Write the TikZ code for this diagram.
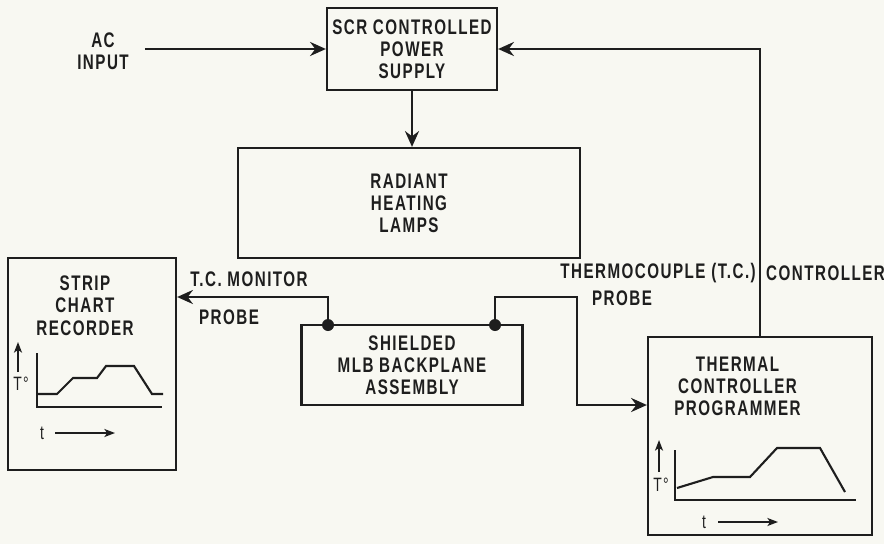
\documentclass[tikz,border=0pt]{standalone}
\usepackage{fontspec}
\setmainfont{Liberation Sans}[FakeStretch=0.72, LetterSpace=7]
\usepackage{tikz}
\usetikzlibrary{arrows.meta, positioning}
\definecolor{DiagInk}{HTML}{1E1E1E}
\definecolor{DiagPaper}{HTML}{F8F8F2}

\begin{document}
\begin{tikzpicture}[x=0.02cm, y=-0.02cm, line width=1.4pt, color=DiagInk,
    blockbox/.style={draw, line width=1.3pt, inner sep=0pt},
    lbl/.style={font=\bfseries\fontsize{12}{12.6}\selectfont, align=center, inner sep=0pt},
    axislbl/.style={font=\fontsize{11}{12}\selectfont, inner sep=0pt},
    sig/.style={-{Stealth[length=9pt, width=8pt, inset=3pt]}},
    tick/.style={line width=1.1pt, -{Stealth[length=6pt, width=4.5pt, inset=1.5pt]}},
    joint/.style={circle, fill=DiagInk, inner sep=0pt, minimum size=0.24cm}]
  \fill[DiagPaper] (0,0) rectangle (884,544);
  \useasboundingbox (0,0) rectangle (884,544);

  % blocks
  \node[blockbox, lbl, minimum width=3.4cm, minimum height=1.64cm] (scr) at (412,49)
    {SCR CONTROLLED\\POWER\\SUPPLY};
  \node[blockbox, lbl, minimum width=6.84cm, minimum height=2.2cm] (heat) at (409,203)
    {RADIANT\\HEATING\\LAMPS};
  \node[blockbox, minimum width=3.36cm, minimum height=4.24cm] (strip) at (92,364) {};
  \node[blockbox, lbl, minimum width=4.42cm, minimum height=1.6cm] (shield) at (412,365)
    {SHIELDED\\MLB BACKPLANE\\ASSEMBLY};
  \node[blockbox, minimum width=4.48cm, minimum height=3.96cm] (therm) at (760,436) {};

  \node[lbl, below=0.36cm of strip.north, xshift=-0.14cm] (striptxt) {STRIP\\CHART\\RECORDER};
  \node[lbl, below=0.40cm of therm.north, xshift=-0.45cm] (thermtxt) {THERMAL\\CONTROLLER\\PROGRAMMER};

  % labels
  \node[lbl] (acin) at (103,51) {AC\\INPUT};
  \node[lbl] (monlbl) at (249,279) {T.C. MONITOR};
  \node[lbl] (monprobe) at (229,317) {PROBE};
  \node[lbl, anchor=east] (tclbl) at (757,273) {THERMOCOUPLE (T.C.)};
  \node[lbl, anchor=west] (ctllbl) at (765,273) {CONTROLLER};
  \node[lbl] (tcprobe) at (622,298) {PROBE};

  % junctions on the backplane
  \node[joint] (jl) at (328,325) {};
  \node[joint] (jr) at (495,325) {};
  \coordinate (monturn) at (328,297);
  \coordinate (tcturn) at (577,297);

  % connectors
  \draw[sig] ([xshift=0.3cm]acin.east |- scr.west) -- (scr.west);
  \draw[sig] (scr.south) -- (scr.south |- heat.north);
  \draw[sig] (therm.north) |- (scr.east);
  \draw[sig] (jl.center) |- (strip.east |- monturn);
  \draw[sig] (jr.center) |- (tcturn) |- (therm.west |- 0,405);

  % strip chart trace
  \draw[line width=1.2pt] (37,353) -- (37,407) -- (162,407);
  \draw[line width=1.2pt] (38,394) -- (57,394) -- (73,378) -- (97,378) -- (106,366)
    -- (134,366) -- (152,394) -- (163,394);
  \draw[tick] (18,372) -- (18,342);
  \node[axislbl] (stripT) at (21,384) {T°};
  \node[axislbl] (stript) at (42,433) {t};
  \draw[tick] (55,433) -- (115,433);

  % programmer trace
  \draw[line width=1.2pt] (675,450) -- (675,500) -- (856,500);
  \draw[line width=1.2pt] (677,488) -- (713,477) -- (750,477) -- (777,448) -- (820,448)
    -- (845,492);
  \draw[tick] (659,472) -- (659,440);
  \node[axislbl] (thermT) at (661,485) {T°};
  \node[axislbl] (thermt) at (704,522) {t};
  \draw[tick] (718,522) -- (778,522);
\end{tikzpicture}
\end{document}
